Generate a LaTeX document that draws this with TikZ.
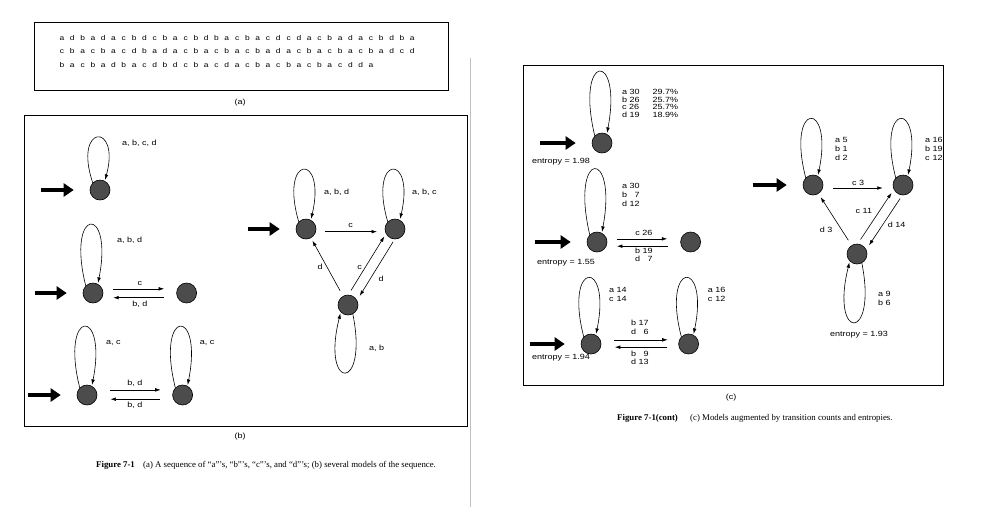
\documentclass[tikz,border=0pt]{standalone}
\usepackage{fontspec}
\setmainfont{Liberation Serif}
\newfontfamily\plotfont[FakeStretch=1.2]{Liberation Sans}
\usetikzlibrary{arrows.meta,positioning}

\def\looptop#1#2{(#1.135) .. controls +(-20,-#2) and +(16,-#2) .. (#1.62)}
\def\loopbot#1#2{(#1.-62) .. controls +(16,#2) and +(-20,#2) .. (#1.-135)}
\newcommand{\tally}[1]{\begin{tabular}{@{}l@{\ }r@{}}#1\end{tabular}}
\colorlet{state fill}{black!70}
\tikzset{state/.style={circle, fill=state fill, draw=black, line width=0.6pt,
        inner sep=0pt, minimum size=20pt},
    edge/.style={-{Latex[length=5.5pt,width=3.6pt]}, line width=0.6pt},
    loopedge/.style={edge, shorten >=1pt},
    startarrow/.style={-{Triangle[length=10pt,width=13pt]}, line width=4pt,
        shorten >=16pt},
    lbl/.style={font=\plotfont\fontsize{7.5}{9}\selectfont, inner sep=0pt},
    seq/.style={lbl, anchor=base, font=\plotfont\fontsize{7}{8}\selectfont},
    frame/.style={draw=black, line width=0.9pt},
    caption/.style={font=\fontsize{8.8}{10}\selectfont, inner sep=0pt, anchor=west}}

\begin{document}
\begin{tikzpicture}[x=1pt,y=-1pt]
    \useasboundingbox (0,0) rectangle (981,507);
    \draw[black!25, line width=0.7pt] (470,58) -- (470,507);

    % (a) the sequence
    \draw[frame] (34,22) rectangle (448,90);
    \foreach \ch [count=\i] in {a,d,b,a,d,a,c,b,d,c,b,a,c,b,d,b,a,c,b,a,c,d,c,d,a,c,b,a,d,a,c,b,d,b,a}
        \node[seq] (s1-\i) at (51.7+10.3*\i,40) {\ch};
    \foreach \ch [count=\i] in {c,b,a,c,b,a,c,d,b,a,d,a,c,b,a,c,b,a,c,b,a,d,a,c,b,a,c,b,a,c,b,a,d,c,d}
        \node[seq] (s2-\i) at (51.7+10.3*\i,53.5) {\ch};
    \foreach \ch [count=\i] in {b,a,c,b,a,d,b,a,c,d,b,d,c,b,a,c,d,a,c,b,a,c,b,a,c,b,a,c,d,d,a}
        \node[seq] (s3-\i) at (51.7+10.3*\i,67) {\ch};
    \node[lbl] (capa) at (240,103) {(a)};

    % (b) several models
    \draw[frame] (24,115) rectangle (467,426);
    \node[state] (b1) at (100,190) {};
    \draw[loopedge] \looptop{b1}{59};
    \node[lbl, anchor=west] (b1l) at ([shift={(22,-47)}]b1) {a, b, c, d};
    \coordinate[left=49pt of b1.west] (b1in);
    \draw[startarrow] (b1in) -- (b1);

    \node[state] (b2a) at (93,293) {};
    \node[state, right=73pt of b2a] (b2b) {};
    \draw[loopedge] \looptop{b2a}{80};
    \node[lbl, anchor=west] (b2l) at ([shift={(24,-53)}]b2a) {a, b, d};
    \draw[edge, shorten <=11pt, shorten >=13pt] (b2a.24) -- node[lbl, above=3pt] {c} (b2b.156);
    \draw[edge, shorten <=13pt, shorten >=11pt] (b2b.-153) -- node[lbl, below=3pt] {b, d} (b2a.-27);
    \coordinate[left=48pt of b2a.west] (b2in);
    \draw[startarrow] (b2in) -- (b2a);

    \node[state] (b3a) at (87,395) {};
    \node[state, right=75pt of b3a] (b3b) {};
    \draw[loopedge] \looptop{b3a}{80};
    \draw[loopedge] \looptop{b3b}{80};
    \node[lbl, anchor=west] (b3la) at ([shift={(19,-52)}]b3a) {a, c};
    \node[lbl, anchor=west] (b3lb) at ([shift={(17,-52)}]b3b) {a, c};
    \draw[edge, shorten <=14pt, shorten >=13pt] (b3a.30) -- node[lbl, above=3pt] {b, d} (b3b.150);
    \draw[edge, shorten <=13pt, shorten >=14pt] (b3b.-156) -- node[lbl, below=3pt] {b, d} (b3a.-24);
    \coordinate[left=49pt of b3a.west] (b3in);
    \draw[startarrow] (b3in) -- (b3a);

    \node[state] (ta) at (306,229) {};
    \node[state] (tb) at (395,229) {};
    \node[state] (tc) at (348,305) {};
    \draw[loopedge] \looptop{ta}{68};
    \draw[loopedge] \looptop{tb}{68};
    \draw[loopedge] \loopbot{tc}{79};
    \node[lbl, anchor=west] (tal) at ([shift={(18,-37)}]ta) {a, b, d};
    \node[lbl, anchor=west] (tbl) at ([shift={(17,-37)}]tb) {a, b, c};
    \node[lbl, anchor=west] (tcl) at ([shift={(21,43)}]tc) {a, b};
    \draw[edge, shorten <=9pt, shorten >=8pt] (ta.-15) -- node[lbl, above=4pt] {c} (tb.195);
    \draw[edge, shorten <=6pt, shorten >=3pt] (tc.119) -- node[lbl, left=4pt] {d} (ta.-61);
    \draw[edge, shorten <=5pt, shorten >=3pt] (tc.88) -- node[lbl, pos=0.45, left=3pt] {c} (tb.208);
    \draw[edge, shorten <=3pt, shorten >=5pt] (tb.268) -- node[lbl, pos=0.65, right=8pt] {d} (tc.28);
    \coordinate[left=48pt of ta.west] (tin);
    \draw[startarrow] (tin) -- (ta);
    \node[lbl] (capb) at (240,437) {(b)};

    \node[caption] (fig1) at (96,465) {\textbf{Figure 7-1}};
    \node[caption] (fig1t) at (143,465) {(a) A sequence of “a”’s, “b”’s, “c”’s, and “d”’s; (b) several models of the sequence.};

    % (c) models with counts
    \draw[frame] (523,65) rectangle (943,385);
    \node[state] (c1) at (602,143) {};
    \draw[loopedge] \looptop{c1}{84};
    \node[lbl, anchor=west] (c1l) at ([shift={(20,-38.5)}]c1)
        {\renewcommand\arraystretch{0.86}\begin{tabular}{@{}l@{\hspace{13pt}}r@{}}
        a 30 & 29.7\%\\ b 26 & 25.7\%\\ c 26 & 25.7\%\\ d 19 & 18.9\%\end{tabular}};
    \node[lbl] (c1e) at (561,162) {entropy = 1.98};
    \coordinate[left=52pt of c1.west] (c1in);
    \draw[startarrow] (c1in) -- (c1);

    \node[state] (c2a) at (597,242) {};
    \node[state, right=73pt of c2a] (c2b) {};
    \draw[loopedge] \looptop{c2a}{86};
    \node[lbl, anchor=west] (c2l) at ([shift={(25,-46.5)}]c2a) {\tally{a & 30\\ b & 7\\ d & 12}};
    \draw[edge, shorten <=10.5pt, shorten >=13.5pt] (c2a.18) -- node[lbl, above=3pt] {c 26} (c2b.162);
    \draw[edge, shorten <=13.5pt, shorten >=10.5pt] (c2b.-156) -- node[lbl, below=2pt]
        {\renewcommand\arraystretch{0.85}\tally{b & 19\\ d & 7}} (c2a.-24);
    \node[lbl] (c2e) at (566,263) {entropy = 1.55};
    \coordinate[left=52pt of c2a.west] (c2in);
    \draw[startarrow] (c2in) -- (c2a);

    \node[state] (c3a) at (591,344) {};
    \node[state, right=77pt of c3a] (c3b) {};
    \draw[loopedge] \looptop{c3a}{77};
    \draw[loopedge] \looptop{c3b}{77};
    \node[lbl, anchor=west] (c3la) at ([shift={(18,-49)}]c3a) {\tally{a & 14\\ c & 14}};
    \node[lbl, anchor=west] (c3lb) at ([shift={(19,-49)}]c3b) {\tally{a & 16\\ c & 12}};
    \draw[edge, shorten <=14pt, shorten >=11.5pt] (c3a.24) -- node[lbl, above=3pt]
        {\renewcommand\arraystretch{0.92}\tally{b & 17\\ d & 6}} (c3b.156);
    \draw[edge, shorten <=11.5pt, shorten >=14pt] (c3b.-162) -- node[lbl, below=3pt]
        {\renewcommand\arraystretch{0.92}\tally{b & 9\\ d & 13}} (c3a.-18);
    \node[lbl] (c3e) at (561,358) {entropy = 1.94};
    \coordinate[left=51pt of c3a.west] (c3in);
    \draw[startarrow] (c3in) -- (c3a);

    \node[state] (ra) at (813,185) {};
    \node[state] (rb) at (903,185) {};
    \node[state] (rc) at (857,254) {};
    \draw[loopedge] \looptop{ra}{77};
    \draw[loopedge] \looptop{rb}{77};
    \draw[loopedge] \loopbot{rc}{80};
    \node[lbl, anchor=west] (ral) at ([shift={(22,-35)}]ra) {\tally{a & 5\\ b & 1\\ d & 2}};
    \node[lbl, anchor=west] (rbl) at ([shift={(22,-35)}]rb) {\tally{a & 16\\ b & 19\\ c & 12}};
    \node[lbl, anchor=west] (rcl) at ([shift={(21,45.5)}]rc) {\tally{a & 9\\ b & 6}};
    \draw[edge, shorten <=10.4pt, shorten >=10.4pt] (ra.-17) -- node[lbl, above=2pt] {c 3} (rb.197);
    \draw[edge, shorten <=6pt, shorten >=4pt] (rc.122) -- node[lbl, pos=0.3, left=9pt] {d 3} (ra.302);
    \draw[edge, shorten <=5pt, shorten >=4pt] (rc.86) -- node[lbl, pos=0.6, left=7pt] {c 11} (rb.206);
    \draw[edge, shorten <=4pt, shorten >=5pt] (rb.266) -- node[lbl, pos=0.55, right=5pt] {d 14} (rc.26);
    \node[lbl] (rce) at (859,335) {entropy = 1.93};
    \coordinate[left=50pt of ra.west] (rin);
    \draw[startarrow] (rin) -- (ra);
    \node[lbl] (capc) at (731,398) {(c)};

    \node[caption] (fig2) at (617,418) {\textbf{Figure 7-1(cont)}};
    \node[caption] (fig2t) at (690,418) {(c) Models augmented by transition counts and entropies.};
\end{tikzpicture}
\end{document}
